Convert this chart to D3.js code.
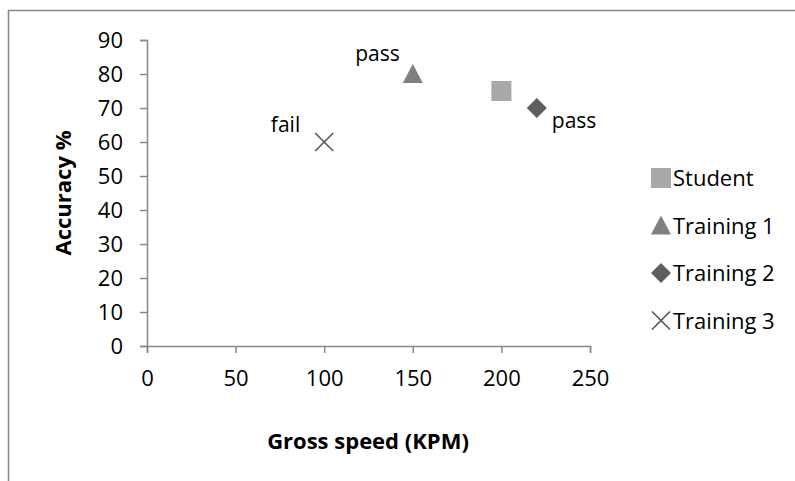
<!DOCTYPE html>
<html><head><meta charset="utf-8">
<script src="https://cdn.jsdelivr.net/npm/d3@7"></script>
<style>body{margin:0;background:#fff}svg{display:block}text{font-family:"Open Sans",sans-serif;fill:#000}</style>
</head><body><svg id="c" width="795" height="481"></svg>
<script>
const seriesNames = ["Student", "Training 1", "Training 2", "Training 3"];
const speeds = [200, 150, 220, 100];
const accuracies = [75, 80, 70, 60];
const pointLabels = ["", "pass", "pass", "fail"];
const xTicks = [0, 50, 100, 150, 200, 250];
const yTicks = [0, 10, 20, 30, 40, 50, 60, 70, 80, 90];
const colors = ["#a9a9a9", "#808080", "#5e5e5e", "#555555"];
const shapes = ["square", "triangle", "diamond", "cross"];

const svg = d3.select("#c");
svg.append("rect").attr("x", 8.5).attr("y", 10.5).attr("width", 800).attr("height", 480)
  .attr("fill", "#fff").attr("stroke", "#888").attr("stroke-width", 1.5);

const x = d3.scaleLinear().domain([0, 250]).range([147, 590]);
const y = d3.scaleLinear().domain([0, 90]).range([346, 40]);

const gx = svg.append("g").attr("transform", "translate(0,346)")
  .call(d3.axisBottom(x).tickValues(xTicks).tickSize(7).tickPadding(17));
const gy = svg.append("g").attr("transform", "translate(147,0)")
  .call(d3.axisLeft(y).tickValues(yTicks).tickSize(7).tickPadding(17));
[gx, gy].forEach(g => {
  g.select(".domain").attr("stroke", "#888").attr("stroke-width", 1.5);
  g.selectAll(".tick line").attr("stroke", "#888").attr("stroke-width", 1.5);
  g.selectAll("text").style("font-family", "'Open Sans', sans-serif").style("font-size", "22px").attr("fill", "#000");
});

svg.append("text").attr("transform", "translate(71,193) rotate(-90)").attr("text-anchor", "middle")
  .style("font-size", "22px").style("font-weight", "bold").text("Accuracy %");
svg.append("text").attr("x", 368).attr("y", 449).attr("text-anchor", "middle")
  .style("font-size", "22px").style("font-weight", "bold").text("Gross speed (KPM)");

function marker(g, shape, color, cx, cy) {
  if (shape === "square") {
    g.append("rect").attr("x", cx - 10).attr("y", cy - 10).attr("width", 20).attr("height", 20).attr("fill", color);
  } else if (shape === "triangle") {
    g.append("path").attr("d", `M${cx},${cy - 10}L${cx + 10},${cy + 9}L${cx - 10},${cy + 9}Z`).attr("fill", color);
  } else if (shape === "diamond") {
    g.append("path").attr("d", `M${cx},${cy - 10}L${cx + 10},${cy}L${cx},${cy + 10}L${cx - 10},${cy}Z`).attr("fill", color);
  } else {
    g.append("path").attr("d", `M${cx - 9},${cy - 9}L${cx + 9},${cy + 9}M${cx + 9},${cy - 9}L${cx - 9},${cy + 9}`)
      .attr("stroke", color).attr("stroke-width", 1.6).attr("fill", "none");
  }
}

const pts = svg.append("g");
seriesNames.forEach((n, i) => marker(pts, shapes[i], colors[i], x(speeds[i]), y(accuracies[i])));

// data labels
const labelOffsets = [null, {dx: -13, dy: -13, anchor: "end"}, {dx: 15, dy: 20, anchor: "start"}, {dx: -24, dy: -10, anchor: "end"}];
seriesNames.forEach((n, i) => {
  if (!pointLabels[i]) return;
  const o = labelOffsets[i];
  svg.append("text").attr("x", x(speeds[i]) + o.dx).attr("y", y(accuracies[i]) + o.dy)
    .attr("text-anchor", o.anchor).style("font-size", "21px").text(pointLabels[i]);
});

// legend
const lg = svg.append("g");
seriesNames.forEach((n, i) => {
  const cy = 178 + i * 47.5;
  marker(lg, shapes[i], colors[i], 661, cy);
  lg.append("text").attr("x", 673).attr("y", cy + 8).style("font-size", "22px").text(n);
});
</script></body></html>
